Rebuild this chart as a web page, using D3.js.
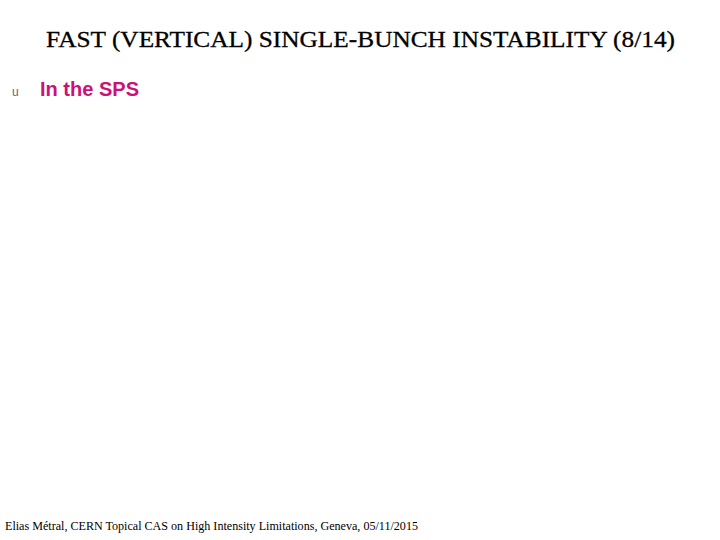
<!DOCTYPE html>
<head>
  <meta charset="utf-8">
  <script src="https://cdn.jsdelivr.net/npm/d3@7"></script>
  <style>
    body { margin: 0; background: #fff; }
    .title { font-family: "Liberation Serif", "Times New Roman", serif; font-size: 24px; fill: #000; stroke: #000; stroke-width: 0.3px; }
    .bullet { font-family: "Liberation Sans", Arial, sans-serif; font-size: 12px; fill: #666; }
    .item { font-family: "Liberation Sans", Arial, sans-serif; font-size: 20px; font-weight: bold; fill: #cc1177; }
    .footer { font-family: "Liberation Serif", "Times New Roman", serif; font-size: 12px; fill: #000; }
  </style>
</head>
<body>
<div class="container"></div>
<script>
var width = 720;
var height = 540;

// slide texts
var titles = ['FAST (VERTICAL) SINGLE-BUNCH INSTABILITY (8/14)'];
var bullets = ['In the SPS'];
var footers = ['Elias Métral, CERN Topical CAS on High Intensity Limitations, Geneva, 05/11/2015'];

var svg = d3.select('.container')
  .append('svg')
  .attr('width', width)
  .attr('height', height);

svg.selectAll('text.title')
  .data(titles)
  .enter().append('text')
  .attr('class', 'title')
  .attr('x', 46)
  .attr('y', 47)
  .attr('textLength', 629)
  .attr('lengthAdjust', 'spacingAndGlyphs')
  .text(function (d) { return d; });

var rows = svg.selectAll('g.row')
  .data(bullets)
  .enter().append('g')
  .attr('class', 'row')
  .attr('transform', function (d, i) { return 'translate(0,' + (96 + i * 30) + ')'; });

rows.append('text')
  .attr('class', 'bullet')
  .attr('x', 12)
  .attr('y', 0)
  .text('u');

rows.append('text')
  .attr('class', 'item')
  .attr('x', 40)
  .attr('y', 0)
  .attr('textLength', 99)
  .attr('lengthAdjust', 'spacingAndGlyphs')
  .text(function (d) { return d; });

svg.selectAll('text.footer')
  .data(footers)
  .enter().append('text')
  .attr('class', 'footer')
  .attr('x', 5)
  .attr('y', 530)
  .attr('textLength', 413)
  .attr('lengthAdjust', 'spacingAndGlyphs')
  .text(function (d) { return d; });
</script>
</body>
